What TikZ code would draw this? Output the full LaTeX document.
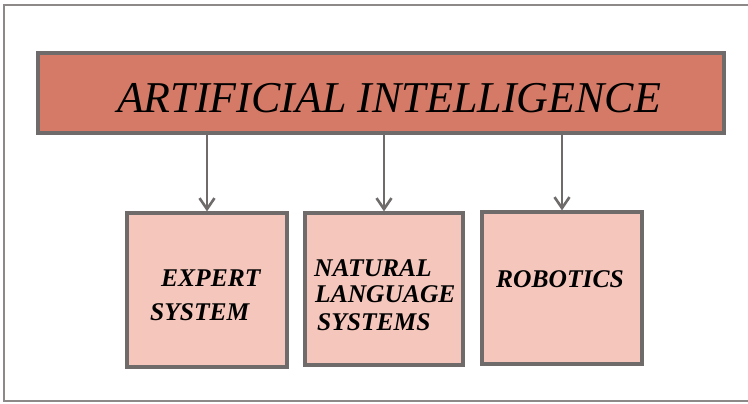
\documentclass[tikz,border=0pt]{standalone}
\usepackage{fontspec}
\setmainfont{Liberation Serif}
\usetikzlibrary{arrows.meta}
\definecolor{banner}{HTML}{D57A67}
\definecolor{boxfill}{HTML}{F5C6BC}
\definecolor{edge}{HTML}{6F6B6A}
\tikzset{
  title/.style={font=\fontsize{44}{48}\selectfont\itshape},
  lbl/.style={font=\fontsize{25.5}{30}\selectfont\bfseries\itshape, align=left, inner sep=0pt},
  subbox/.style={draw=edge, line width=3.2pt, fill=boxfill},
  conn/.style={draw=edge, line width=2.8pt, -{Straight Barb[length=11pt,width=15pt,line width=2.6pt]}},
}
\begin{document}
\begin{tikzpicture}[x=1pt,y=-1pt]
\useasboundingbox (0,0) rectangle (748,404);
\fill[white] (0,0) rectangle (748,404);
% outer frame
\draw[edge!80, line width=2pt] (760,5) -- (4,5) -- (4,401) -- (760,401);
% banner
\node[draw=edge, line width=3.4pt, fill=banner, minimum width=686pt, minimum height=80pt, inner sep=0pt] (ai) at (381,93) {};
\node[title, anchor=base] (ait) at (389,113) {ARTIFICIAL INTELLIGENCE};
% boxes
\node[subbox, minimum width=160pt, minimum height=154pt, inner sep=0pt] (es) at (207,290) {};
\node[subbox, minimum width=158pt, minimum height=152pt, inner sep=0pt] (nl) at (384,289) {};
\node[subbox, minimum width=160pt, minimum height=152pt, inner sep=0pt] (ro) at (562,288) {};
% labels
\node[lbl, anchor=base west] (es1) at (161,286) {EXPERT};
\node[lbl, anchor=base west] (es2) at (150,320) {SYSTEM};
\node[lbl, anchor=base west] (nl1) at (314,276) {NATURAL};
\node[lbl, anchor=base west] (nl2) at (315,302) {LANGUAGE};
\node[lbl, anchor=base west] (nl3) at (317,330) {SYSTEMS};
\node[lbl, anchor=base west] (ro1) at (496,287) {ROBOTICS};
% connectors
\draw[conn] (ai.south -| es.north) -- (es.north);
\draw[conn] (ai.south -| nl.north) -- (nl.north);
\draw[conn] (ai.south -| ro.north) -- (ro.north);
\end{tikzpicture}
\end{document}
